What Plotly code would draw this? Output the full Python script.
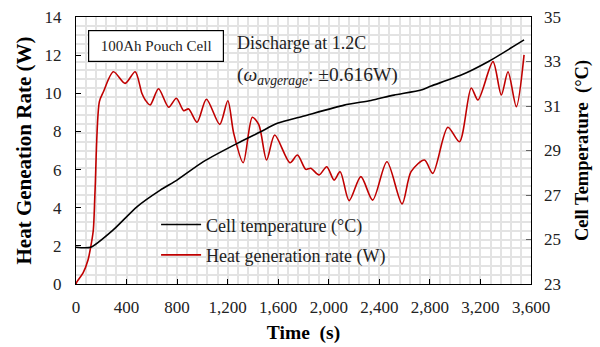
import plotly.graph_objects as go

# Heat generation rate (W), left axis
heat_t = [0, 8, 56, 95, 117, 137, 151, 185, 217, 296, 389, 468, 521, 548, 587, 653, 733, 794, 852, 891,
          958, 1032, 1137, 1201, 1248, 1323, 1395, 1447, 1508, 1572, 1693, 1752, 1818, 1857, 1923, 1984,
          2042, 2090, 2161, 2254, 2347, 2460, 2580, 2651, 2757, 2823, 2942, 3034, 3127, 3180, 3299, 3365,
          3418, 3484, 3545]
heat_w = [0.0, 0.12, 0.58, 1.26, 1.96, 2.83, 4.93, 9.56, 10.08, 11.13, 10.52, 11.13, 10.0, 9.65, 9.39,
          10.24, 9.27, 9.74, 9.09, 9.18, 8.48, 9.69, 8.37, 9.61, 7.90, 6.36, 8.74, 8.34, 6.50, 7.81, 6.36,
          6.76, 6.01, 6.07, 5.72, 6.15, 5.45, 5.89, 4.37, 5.63, 4.40, 6.41, 4.20, 5.89, 6.50, 5.80, 8.22,
          7.46, 10.28, 9.65, 11.66, 9.91, 11.13, 9.30, 12.01]

# Cell temperature (°C), right axis
temp_t = [0, 116, 294, 482, 667, 799, 1008, 1276, 1460, 1593, 1804, 2122, 2334, 2516, 2730, 2810, 3048,
          3260, 3545]
temp_c = [24.65, 24.65, 25.43, 26.47, 27.22, 27.67, 28.50, 29.32, 29.84, 30.22, 30.55, 31.04, 31.25,
          31.49, 31.72, 31.90, 32.39, 32.99, 33.97]

x_ticks = list(range(0, 3601, 400))

FONT = "Liberation Serif"

fig = go.Figure()
fig.add_trace(go.Scatter(x=temp_t, y=temp_c, yaxis="y2", mode="lines",
                         name="Cell temperature (°C)", legendgroup="a", legendrank=1,
                         line=dict(color="black", width=1.6, shape="spline", smoothing=0.6)))
fig.add_trace(go.Scatter(x=heat_t, y=heat_w, yaxis="y", mode="lines",
                         name="Heat generation rate (W)", legendgroup="b", legendrank=2,
                         line=dict(color="#c00000", width=1.6, shape="spline", smoothing=0.8)))

grid_col = "#e3e3e3"
fig.update_layout(
    width=600, height=347,
    margin=dict(l=76, r=69, t=17, b=63),
    paper_bgcolor="white", plot_bgcolor="white",
    font=dict(family=FONT, size=17, color="#222"),
    xaxis=dict(range=[0, 3600], tickvals=x_ticks, tickformat=",", ticks="inside", ticklen=5,
               tickcolor="black", showline=True, linecolor="black", linewidth=1.2, mirror=True,
               showgrid=True, gridcolor=grid_col, gridwidth=1.5, automargin=False,
               minor=dict(dtick=80, showgrid=True, gridcolor=grid_col, gridwidth=1.5),
               zeroline=False, ticklabelstandoff=7,
               title=dict(text="<b>Time  (s)</b>", font=dict(size=19.5, color="black"), standoff=9)),
    yaxis=dict(range=[0, 14], dtick=2, ticks="inside", ticklen=5, tickcolor="black",
               showline=True, linecolor="black", linewidth=1.2, mirror=True, automargin=False,
               showgrid=False, zeroline=False, ticklabelstandoff=10,
               title=dict(text="<b>Heat Geneation Rate (W)</b>", font=dict(size=21, color="black"),
                          standoff=7)),
    yaxis2=dict(range=[23, 35], tick0=23, dtick=2, overlaying="y", side="right", ticks="inside",
                ticklen=5, tickcolor="#666", showline=False, zeroline=False, automargin=False,
                showgrid=True, gridcolor=grid_col, gridwidth=1.5,
                minor=dict(tick0=23, dtick=0.4, showgrid=True, gridcolor=grid_col, gridwidth=1.5),
                ticklabelstandoff=12,
                title=dict(text="<b>Cell Temperature  (°C)</b>", font=dict(size=18.5, color="black"),
                           standoff=14)),
    legend=dict(x=0.176, y=0.291, xanchor="left", yanchor="top", bgcolor="rgba(0,0,0,0)",
                font=dict(size=18, color="#222"), tracegroupgap=4, itemwidth=40),
    showlegend=True,
)

fig.add_annotation(xref="paper", yref="paper", x=0.026, y=0.952, xanchor="left", yanchor="top",
                   text="100Ah Pouch Cell", showarrow=False, font=dict(size=15, color="#222"),
                   width=128, height=24, borderpad=3,
                   bordercolor="black", borderwidth=1.2, bgcolor="white")
fig.add_annotation(xref="paper", yref="paper", x=0.35, y=0.948, xanchor="left", yanchor="top",
                   text="Discharge at 1.2C", showarrow=False, font=dict(size=18, color="#222"))
fig.add_annotation(xref="paper", yref="paper", x=0.35, y=0.83, xanchor="left", yanchor="top",
                   text="(<i>ω</i><sub><i>avgerage</i></sub>: ±0.616W)", showarrow=False,
                   font=dict(size=19.5, color="#222"))

fig.write_html("out.html", config={"displayModeBar": False},
               post_script="document.body.style.margin='0px';")
